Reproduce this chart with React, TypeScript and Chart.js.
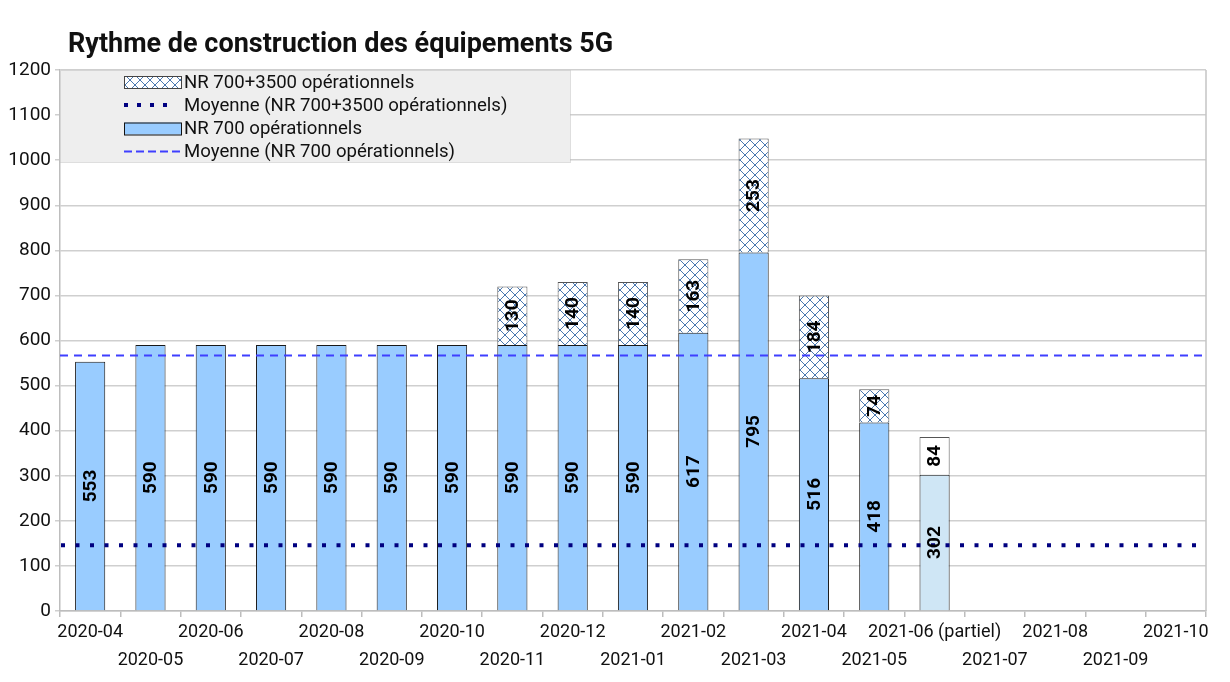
import React, { useEffect, useRef } from "react";
import { Chart, registerables } from "chart.js";

Chart.register(...registerables);

const TITLE = "Rythme de construction des équipements 5G";

const categories = [
  "2020-04", "2020-05", "2020-06", "2020-07", "2020-08", "2020-09", "2020-10",
  "2020-11", "2020-12", "2021-01", "2021-02", "2021-03", "2021-04", "2021-05",
  "2021-06 (partiel)", "2021-07", "2021-08", "2021-09", "2021-10",
];

const nr700 = [553, 590, 590, 590, 590, 590, 590, 590, 590, 590, 617, 795, 516, 418, 302, null, null, null, null];
const nr7003500 = [null, null, null, null, null, null, null, 130, 140, 140, 163, 253, 184, 74, 84, null, null, null, null];

const avgNr700 = 567;
const avgNr7003500 = 146;

const legendLabels = [
  "NR 700+3500 opérationnels",
  "Moyenne (NR 700+3500 opérationnels)",
  "NR 700 opérationnels",
  "Moyenne (NR 700 opérationnels)",
];

const FONT = "Roboto, 'Noto Sans', sans-serif";
const BLUE = "#99ccff";
const BLUE_PARTIAL = "#cfe6f5";
const NAVY = "#000080";
const DASH_BLUE = "#3f3fff";

function makeHatch(): CanvasPattern | string {
  const c = document.createElement("canvas");
  c.width = 10;
  c.height = 10;
  const g = c.getContext("2d");
  if (!g) return "#ffffff";
  g.fillStyle = "#ffffff";
  g.fillRect(0, 0, 10, 10);
  g.strokeStyle = "#4a78b0";
  g.lineWidth = 1;
  g.beginPath();
  g.moveTo(-1, -1);
  g.lineTo(11, 11);
  g.moveTo(11, -1);
  g.lineTo(-1, 11);
  g.stroke();
  const p = g.createPattern(c, "repeat");
  return p || "#ffffff";
}

export default function App() {
  const ref = useRef<HTMLCanvasElement | null>(null);

  useEffect(() => {
    const canvas = ref.current;
    if (!canvas) return;
    const hatch = makeHatch();
    const lastIdx = 14;

    const titlePlugin = {
      id: "customTitle",
      afterDraw(chart: any) {
        const ctx = chart.ctx;
        ctx.save();
        ctx.font = `bold 27px ${FONT}`;
        ctx.fillStyle = "#111111";
        ctx.textBaseline = "alphabetic";
        ctx.textAlign = "left";
        ctx.fillText(TITLE, 68, 52);
        ctx.restore();
      },
    };

    const framePlugin = {
      id: "frame",
      beforeDatasetsDraw(chart: any) {
        const { ctx, chartArea } = chart;
        ctx.save();
        ctx.strokeStyle = "#c4c4c4";
        ctx.lineWidth = 1.5;
        ctx.beginPath();
        ctx.moveTo(chartArea.right, chartArea.top);
        ctx.lineTo(chartArea.right, chartArea.bottom);
        ctx.stroke();
        ctx.restore();
      },
    };

    const avgPlugin = {
      id: "avgLines",
      afterDatasetsDraw(chart: any) {
        const { ctx, chartArea } = chart;
        const y = chart.scales.y;
        ctx.save();
        const y1 = y.getPixelForValue(avgNr700);
        ctx.strokeStyle = DASH_BLUE;
        ctx.lineWidth = 2;
        ctx.setLineDash([8, 6]);
        ctx.beginPath();
        ctx.moveTo(chartArea.left, y1);
        ctx.lineTo(chartArea.right, y1);
        ctx.stroke();
        const y2 = y.getPixelForValue(avgNr7003500);
        ctx.strokeStyle = NAVY;
        ctx.lineWidth = 4;
        ctx.setLineDash([4, 10.5]);
        ctx.beginPath();
        ctx.moveTo(chartArea.left + 1, y2);
        ctx.lineTo(chartArea.right, y2);
        ctx.stroke();
        ctx.restore();
      },
    };

    const labelPlugin = {
      id: "valueLabels",
      afterDatasetsDraw(chart: any) {
        const ctx = chart.ctx;
        ctx.save();
        ctx.font = `bold 19px ${FONT}`;
        ctx.fillStyle = "#000000";
        ctx.textAlign = "center";
        ctx.textBaseline = "middle";
        chart.data.datasets.forEach((ds: any, di: number) => {
          const meta = chart.getDatasetMeta(di);
          meta.data.forEach((el: any, i: number) => {
            const v = ds.data[i];
            if (v === null || v === undefined) return;
            const cy = (el.y + el.base) / 2;
            ctx.save();
            ctx.translate(el.x, cy);
            ctx.rotate(-Math.PI / 2);
            ctx.fillText(String(v), 0, 1);
            ctx.restore();
          });
        });
        ctx.restore();
      },
    };

    const legendPlugin = {
      id: "customLegend",
      afterDraw(chart: any) {
        const ctx = chart.ctx;
        ctx.save();
        const bx = 60, by = 70, bw = 510, bh = 92;
        ctx.fillStyle = "#eeeeee";
        ctx.fillRect(bx, by, bw, bh);
        ctx.strokeStyle = "#bdbdbd";
        ctx.lineWidth = 1;
        ctx.setLineDash([1, 1]);
        ctx.strokeRect(bx + 0.5, by + 0.5, bw, bh);
        ctx.setLineDash([]);

        const sx = 124, sw = 57, tx = 184;
        const rows = [82, 105, 128.5, 151.5];

        ctx.fillStyle = hatch as any;
        ctx.fillRect(sx, rows[0] - 6, sw, 12);
        ctx.strokeStyle = "#444444";
        ctx.strokeRect(sx + 0.5, rows[0] - 6 + 0.5, sw, 12);

        ctx.strokeStyle = NAVY;
        ctx.lineWidth = 4;
        ctx.setLineDash([4, 9]);
        ctx.beginPath();
        ctx.moveTo(sx, rows[1]);
        ctx.lineTo(sx + 44, rows[1]);
        ctx.stroke();
        ctx.setLineDash([]);

        ctx.fillStyle = BLUE;
        ctx.fillRect(sx, rows[2] - 6, sw, 12);
        ctx.strokeStyle = "#111111";
        ctx.lineWidth = 1;
        ctx.strokeRect(sx + 0.5, rows[2] - 6 + 0.5, sw, 12);

        ctx.strokeStyle = DASH_BLUE;
        ctx.lineWidth = 2;
        ctx.setLineDash([8, 4]);
        ctx.beginPath();
        ctx.moveTo(sx, rows[3]);
        ctx.lineTo(sx + sw, rows[3]);
        ctx.stroke();
        ctx.setLineDash([]);

        ctx.font = `18.6px ${FONT}`;
        ctx.fillStyle = "#111111";
        ctx.textAlign = "left";
        ctx.textBaseline = "middle";
        legendLabels.forEach((t, i) => {
          ctx.fillText(t, tx, rows[i] + 1);
        });
        ctx.restore();
      },
    };

    const bottomColors = nr700.map((_, i) => (i === lastIdx ? BLUE_PARTIAL : BLUE));
    const topColors = nr7003500.map((_, i) => (i === lastIdx ? "#ffffff" : hatch));

    const chart = new Chart(canvas, {
      type: "bar",
      data: {
        labels: categories,
        datasets: [
          {
            label: legendLabels[2],
            data: nr700 as any,
            backgroundColor: bottomColors as any,
            borderColor: "#1a1a1a",
            borderWidth: 1,
            barPercentage: 0.5,
            categoryPercentage: 1,
            stack: "s",
          },
          {
            label: legendLabels[0],
            data: nr7003500 as any,
            backgroundColor: topColors as any,
            borderColor: "#555555",
            borderWidth: 1,
            barPercentage: 0.5,
            categoryPercentage: 1,
            stack: "s",
          },
        ],
      },
      options: {
        responsive: false,
        animation: false,
        devicePixelRatio: 1,
        layout: { padding: { left: 8, top: 70, right: 24, bottom: 0 } },
        plugins: {
          legend: { display: false },
          title: { display: false },
          tooltip: { enabled: false },
        },
        scales: {
          x: {
            stacked: true,
            offset: true,
            grid: {
              offset: true,
              drawOnChartArea: false,
              drawTicks: true,
              tickLength: 6,
              color: "#bdbdbd",
              lineWidth: 1.5,
            },
            border: { color: "#bdbdbd", width: 1.5 },
            ticks: {
              autoSkip: false,
              maxRotation: 0,
              minRotation: 0,
              padding: 2,
              color: "#111111",
              font: { family: FONT, size: 18, lineHeight: 1.55 },
              callback: (_v: any, i: number) => (i % 2 === 0 ? categories[i] : ["", categories[i]]),
            },
            afterFit: (s: any) => {
              s.height = 71;
            },
          },
          y: {
            stacked: true,
            min: 0,
            max: 1200,
            grid: {
              color: "#cfcfcf",
              lineWidth: 1.5,
              tickLength: 5,
            },
            border: { color: "#bdbdbd", width: 1.5 },
            ticks: {
              stepSize: 100,
              padding: 4,
              color: "#111111",
              font: { family: FONT, size: 19 },
              callback: (v: any) => String(v),
            },
            afterFit: (s: any) => {
              s.width = 52;
            },
          },
        },
      },
      plugins: [framePlugin, avgPlugin, labelPlugin, legendPlugin, titlePlugin],
    });

    return () => {
      chart.destroy();
    };
  }, []);

  return (
    <div style={{ position: "fixed", left: 0, top: 0, width: 1230, height: 682, background: "#ffffff" }}>
      <canvas ref={ref} width={1230} height={682} style={{ display: "block", width: 1230, height: 682 }} />
    </div>
  );
}
